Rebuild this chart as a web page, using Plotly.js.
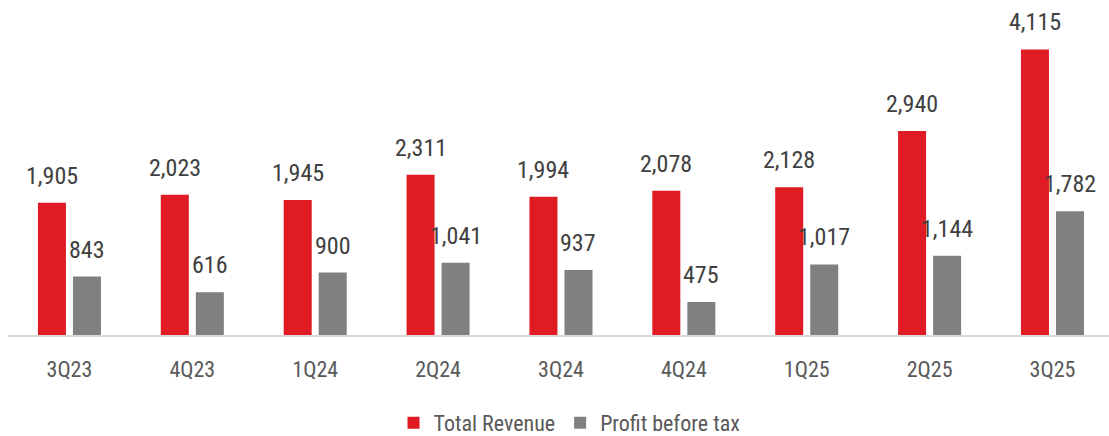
<!DOCTYPE html>
<html>
<head>
<meta charset="utf-8">
<script src="https://cdn.plot.ly/plotly-3.0.1.min.js"></script>
<style>html,body{margin:0;padding:0;background:#fff;}#chart{width:1109px;height:436px;}</style>
</head>
<body>
<div id="chart"></div>
<script>
const categories = ["3Q23","4Q23","1Q24","2Q24","3Q24","4Q24","1Q25","2Q25","3Q25"];
const totalRevenue = [1905, 2023, 1945, 2311, 1994, 2078, 2128, 2940, 4115];
const profitBeforeTax = [843, 616, 900, 1041, 937, 475, 1017, 1144, 1782];
const seriesNames = ["Total Revenue", "Profit before tax"];

const FONT = '"Liberation Sans Narrow", "Arial Narrow", "Roboto Condensed", "DejaVu Sans Condensed", sans-serif';
const RED = '#E01B24';
const GRAY = '#808080';

const fmt = v => v.toLocaleString('en-US');

const traces = [
  {type:'bar', name:seriesNames[0], x:categories, y:totalRevenue, marker:{color:RED}, hoverinfo:'none'},
  {type:'bar', name:seriesNames[1], x:categories, y:profitBeforeTax, marker:{color:GRAY}, hoverinfo:'none'}
];

const annotations = [];
categories.forEach((c,i)=>{
  annotations.push({x:c, y:totalRevenue[i], xref:'x', yref:'y', text:fmt(totalRevenue[i]), showarrow:false,
    xanchor:'center', yanchor:'bottom', xshift:-17.5, yshift:11, font:{family:FONT, size:24, color:'#404040'}});
  annotations.push({x:c, y:profitBeforeTax[i], xref:'x', yref:'y', text:fmt(profitBeforeTax[i]), showarrow:false,
    xanchor:'center', yanchor:'bottom', xshift:17.5, yshift:11, font:{family:FONT, size:24, color:'#404040'}});
});

const layout = {
  width:1109, height:436,
  margin:{l:8, r:0, t:20, b:101},
  paper_bgcolor:'#fff', plot_bgcolor:'#fff',
  barmode:'group', bargap:0.43, bargroupgap:0.2,
  font:{family:FONT, size:22, color:'#595959'},
  xaxis:{type:'category', range:[-0.5, 8.46], showgrid:false, zeroline:false, showline:true, linecolor:'#D9D9D9', linewidth:2,
    ticks:'', ticklabelstandoff:14, tickfont:{family:FONT, size:22, color:'#595959'}, fixedrange:true, automargin:false},
  yaxis:{range:[0, 4540], visible:false, showgrid:false, zeroline:false, fixedrange:true},
  showlegend:true,
  legend:{orientation:'h', x:0.51, xanchor:'center', yref:'container', y:0.03, yanchor:'middle', font:{family:FONT, size:22, color:'#595959'}, itemwidth:30, traceorder:'normal'},
  annotations:annotations
};

Plotly.newPlot('chart', traces, layout, {displayModeBar:false, staticPlot:true});
</script>
</body>
</html>
